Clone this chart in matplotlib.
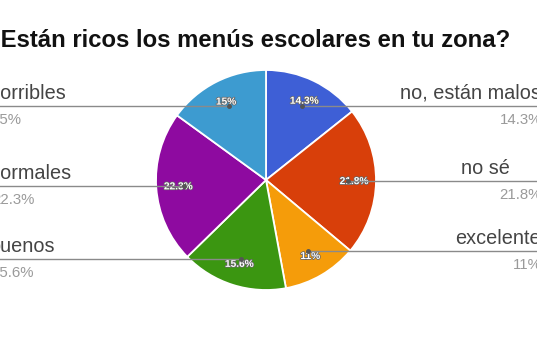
import numpy as np
import matplotlib
matplotlib.use("Agg")
import matplotlib.pyplot as plt
import matplotlib.patheffects as pe

plt.rcParams['font.family'] = ['Liberation Sans', 'DejaVu Sans']

title = "¿Están ricos los menús escolares en tu zona?"
# clockwise from 12 o'clock
answers = ["no, están malos", "no sé", "excelente", "buenos", "normales", "horribles"]
shares = [14.3, 21.8, 11, 15.6, 22.3, 15]
colors = ["#3e5fd6", "#d83f0a", "#f59c0a", "#3b9611", "#8e0aa0", "#3d9bd0"]

W, H = 537, 358
fig = plt.figure(figsize=(W / 100, H / 100), dpi=100)
ax = fig.add_axes([0, 0, 1, 1])

cx, cy, r = 266, H - 180, 110

wedges, _, autotexts = ax.pie(
    shares, colors=colors, startangle=90, counterclock=False,
    center=(cx, cy), radius=r, pctdistance=0.8,
    autopct=lambda p: f"{p:.3g}%".replace(".0%", "%"),
    wedgeprops=dict(edgecolor='white', linewidth=1.3), frame=True)
ax.set_xlim(0, W)
ax.set_ylim(0, H)
ax.set_aspect('equal')
ax.axis('off')

for t in autotexts:
    t.set_color('white')
    t.set_fontsize(7.3)
    t.set_fontweight('bold')
    t.set_path_effects([pe.withStroke(linewidth=1.1, foreground='#666666')])

# leader lines + side labels
right_label_x = {"no sé": 510}
for w, name, v in zip(wedges, answers, shares):
    mid = np.deg2rad((w.theta1 + w.theta2) / 2)
    dx, dy = cx + 0.75 * r * np.cos(mid), cy + 0.75 * r * np.sin(mid)
    right = np.cos(mid) > 0
    xe = W if right else 0
    ax.plot([dx, xe], [dy, dy], color='#8a8a8a', lw=1, zorder=3)
    ax.plot(dx, dy, 'o', color='#555555', ms=2.5, zorder=4)
    pct = f"{v:g}%"
    if right:
        ax.text(right_label_x.get(name, 541), dy + 3, name, ha='right', va='bottom',
                fontsize=14.3, color='#444444')
        ax.text(542, dy - 7, pct, ha='right', va='top', fontsize=10.8, color='#9a9a9a')
    else:
        ax.text(-10, dy + 3, name, ha='left', va='bottom', fontsize=14.3, color='#444444')
        ax.text(-8, dy - 7, pct, ha='left', va='top', fontsize=10.8, color='#9a9a9a')

ax.text(-14, H - 40, title, ha='left', va='center', fontsize=17.2, fontweight='bold',
        color='#111111')

fig.savefig("out.png", dpi=100)
